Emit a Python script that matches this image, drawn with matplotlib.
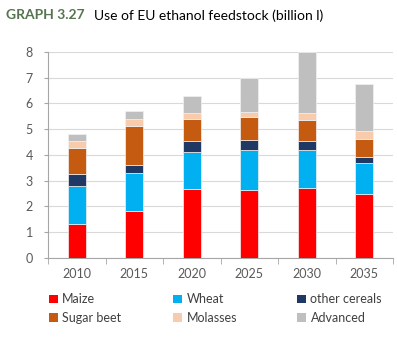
import matplotlib.pyplot as plt
import numpy as np
from matplotlib.patches import Patch

plt.rcParams['font.family'] = ['Lato', 'DejaVu Sans']

# data (billion litres)
years = ['2010', '2015', '2020', '2025', '2030', '2035']
maize = [1.31, 1.84, 2.68, 2.63, 2.73, 2.47]
wheat = [1.49, 1.47, 1.45, 1.56, 1.45, 1.22]
other_cereals = [0.46, 0.29, 0.40, 0.38, 0.35, 0.24]
sugar_beet = [1.02, 1.53, 0.88, 0.89, 0.84, 0.70]
molasses = [0.26, 0.26, 0.21, 0.20, 0.26, 0.29]
advanced = [0.29, 0.31, 0.66, 1.32, 2.37, 1.85]

series = [('Maize', maize, '#FF0000'),
          ('Wheat', wheat, '#00B0F0'),
          ('other cereals', other_cereals, '#1F3864'),
          ('Sugar beet', sugar_beet, '#C55A11'),
          ('Molasses', molasses, '#F8CBAD'),
          ('Advanced', advanced, '#BFBFBF')]

fig = plt.figure(figsize=(3.97, 3.42), dpi=100)
ax = fig.add_axes([0.121, 0.246, 0.869, 0.602])

x = np.arange(len(years))
bottom = np.zeros(len(years))
for name, vals, col in series:
    ax.bar(x, vals, 0.31, bottom=bottom, color=col, edgecolor='#f2f2f2',
           linewidth=0.5, zorder=3)
    bottom += np.array(vals)

ax.set_xlim(-0.5, len(years) - 0.5)
ax.set_ylim(0, 8)
ax.set_yticks(range(0, 9))
ax.set_xticks(x)
ax.set_xticklabels(years)
ax.set_xticks(np.arange(-0.5, len(years)), minor=True)
ax.tick_params(axis='x', which='major', length=0, pad=7, labelsize=9, labelcolor='#595959')
ax.tick_params(axis='x', which='minor', length=4, color='#A6A6A6', direction='out')
ax.tick_params(axis='y', length=3, color='#A6A6A6', labelsize=9, labelcolor='#595959', pad=8)
ax.grid(axis='y', color='#D9D9D9', linewidth=0.8, zorder=0)
for s in ['top', 'right']:
    ax.spines[s].set_visible(False)
for s in ['left', 'bottom']:
    ax.spines[s].set_color('#A6A6A6')

# legend: one small legend per column (top row / bottom row)
col_x = [0.124, 0.437, 0.749]
for k, cx in enumerate(col_x):
    pair = [series[k], series[k + 3]]
    handles = [Patch(facecolor=c, edgecolor='none') for _, _, c in pair]
    labels = [n for n, _, _ in pair]
    fig.legend(handles, labels, loc='upper left', bbox_to_anchor=(cx, 0.142),
               frameon=False, fontsize=9, labelcolor='#404040', handlelength=0.7,
               handleheight=0.7, handletextpad=0.35, labelspacing=0.5,
               borderaxespad=0, borderpad=0)

fig.text(0.015, 0.955, 'GRAPH 3.27', fontsize=10, fontweight='bold', color='#56744F',
         va='center')
fig.text(0.237, 0.955, 'Use of EU ethanol feedstock (billion l)', fontsize=10,
         color='black', va='center')

fig.savefig('out.png', dpi=100)
